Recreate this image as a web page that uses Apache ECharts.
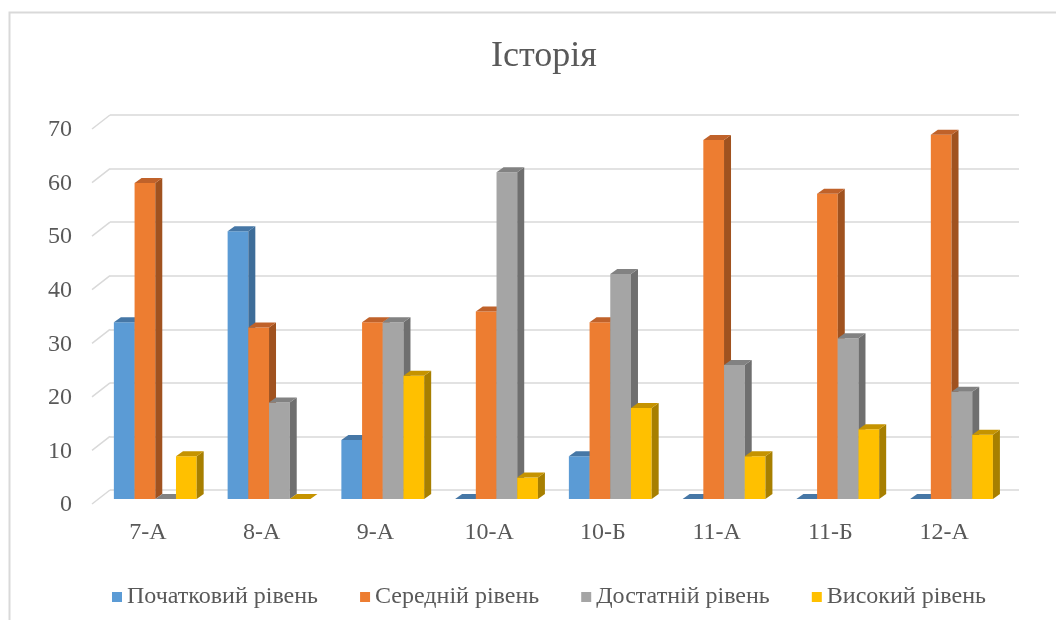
<!DOCTYPE html>
<html>
<head>
    <meta charset="UTF-8">
    <title>Історія</title>
    <style>
        html, body {
            margin: 0;
            padding: 0;
            width: 100%;
            height: 100%;
            background: #fff;
        }
        #chart {
            width: 1056px;
            height: 620px;
        }
    </style>
    <script src="https://cdn.jsdelivr.net/npm/echarts@6/dist/echarts.min.js"></script>
</head>
<body>
<div id="chart"></div>
<script type="text/javascript">
    // дані
    var categories = ['7-А', '8-А', '9-А', '10-А', '10-Б', '11-А', '11-Б', '12-А'];
    var seriesNames = ['Початковий рівень', 'Середній рівень', 'Достатній рівень', 'Високий рівень'];
    var pochatkovyi = [33, 50, 11, 0, 8, 0, 0, 0];
    var serednii = [59, 32, 33, 35, 33, 67, 57, 68];
    var dostatnii = [0, 18, 33, 61, 42, 25, 30, 20];
    var vysokyi = [8, 0, 23, 4, 17, 8, 13, 12];
    var yTicks = [0, 10, 20, 30, 40, 50, 60, 70];

    var font = "'Liberation Serif', 'Times New Roman', serif";
    var textColor = '#595959';
    var gridColor = '#d9d9d9';

    // кольори: лицьова грань, бічна, верхня
    var faceColors = ['#5B9BD5', '#ED7D31', '#A5A5A5', '#FFC000'];
    var sideColors = ['#3e6d99', '#a0521f', '#6f6f6f', '#a77f00'];
    var topColors = ['#4677a6', '#c0622a', '#828282', '#c59300'];

    var barW = 20.7, depthX = 7, depthY = 5;

    function bar3d(s) {
        return function(params, api) {
            var c = api.value(0);
            var v = api.value(1);
            var base = api.coord([c, 0]);
            var top = api.coord([c, v])[1];
            var y0 = base[1];
            var left = base[0] - 34 + s * barW;
            var right = left + barW;
            return {
                type: 'group',
                children: [{
                    type: 'rect',
                    shape: {x: left, y: top, width: barW, height: y0 - top},
                    style: {fill: faceColors[s]}
                }, {
                    type: 'polygon',
                    shape: {points: [[right, top], [right + depthX, top - depthY], [right + depthX, y0 - depthY], [right, y0]]},
                    style: {fill: sideColors[s]}
                }, {
                    type: 'polygon',
                    shape: {points: [[left, top], [left + depthX, top - depthY], [right + depthX, top - depthY], [right, top]]},
                    style: {fill: topColors[s]}
                }]
            };
        };
    }

    var allValues = [pochatkovyi, serednii, dostatnii, vysokyi];
    var series = [];

    // діагоналі сітки зліва
    series.push({
        type: 'custom',
        xAxisIndex: 1,
        yAxisIndex: 1,
        silent: true,
        data: yTicks.map(function(t) { return [0, t]; }),
        renderItem: function(params, api) {
            var p = api.coord([0, api.value(1)]);
            return {
                type: 'line',
                shape: {x1: p[0], y1: p[1], x2: p[0] - 18, y2: p[1] + 14},
                style: {stroke: gridColor, lineWidth: 1.5}
            };
        },
        z: 1
    });

    allValues.forEach(function(vals, s) {
        series.push({
            name: seriesNames[s],
            type: 'custom',
            xAxisIndex: 0,
            yAxisIndex: 0,
            itemStyle: {color: faceColors[s]},
            data: vals.map(function(v, i) { return [i, v]; }),
            renderItem: bar3d(s),
            z: 5
        });
    });

    var myChart = echarts.init(document.getElementById('chart'));
    var option = {
        animation: false,
        backgroundColor: '#fff',
        title: {
            text: 'Історія',
            left: 486,
            top: 34,
            textStyle: {fontFamily: font, fontSize: 36, fontWeight: 'normal', color: textColor}
        },
        legend: {
            data: seriesNames,
            left: 107,
            top: 580,
            icon: 'rect',
            itemWidth: 10,
            itemHeight: 10,
            itemGap: 42,
            textStyle: {fontFamily: font, fontSize: 24, color: textColor}
        },
        graphic: [{
            type: 'rect',
            shape: {x: 9.5, y: 12.5, width: 1200, height: 800},
            style: {fill: null, stroke: gridColor, lineWidth: 2},
            silent: true
        }],
        grid: [
            {left: 91, right: 55, top: 124, bottom: 121},   // бари
            {left: 110, right: 37, top: 115, bottom: 130},  // задня стінка
            {left: 92, right: 55, top: 130, bottom: 115}    // підписи осі Y
        ],
        xAxis: [{
            gridIndex: 0,
            type: 'category',
            data: categories,
            boundaryGap: true,
            axisLine: {show: false},
            axisTick: {show: false},
            axisLabel: {fontFamily: font, fontSize: 24, color: textColor, margin: 22}
        }, {
            gridIndex: 1,
            type: 'value',
            min: 0,
            max: 1,
            show: false
        }, {
            gridIndex: 2,
            type: 'value',
            min: 0,
            max: 1,
            show: false
        }],
        yAxis: [{
            gridIndex: 0,
            type: 'value',
            min: 0,
            max: 70,
            interval: 10,
            show: false
        }, {
            gridIndex: 1,
            type: 'value',
            min: 0,
            max: 70,
            interval: 10,
            axisLine: {show: false},
            axisTick: {show: false},
            axisLabel: {show: false},
            splitLine: {show: true, lineStyle: {color: gridColor, width: 1.5}}
        }, {
            gridIndex: 2,
            type: 'value',
            min: 0,
            max: 70,
            interval: 10,
            axisLine: {show: false},
            axisTick: {show: false},
            splitLine: {show: false},
            axisLabel: {fontFamily: font, fontSize: 24, color: textColor, margin: 20}
        }],
        series: series
    };
    myChart.setOption(option);
</script>
</body>
</html>
